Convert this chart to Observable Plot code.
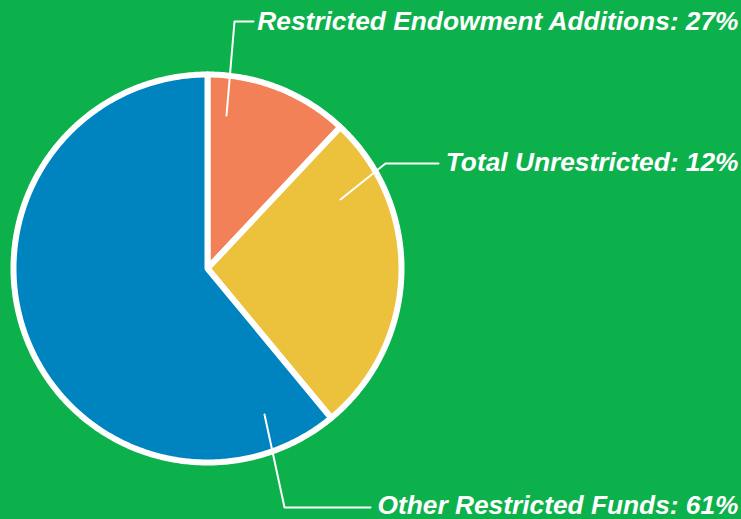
<!DOCTYPE html>
<html>
<head>
<meta charset="utf-8">
<script src="https://cdn.jsdelivr.net/npm/d3@7"></script>
<script src="https://cdn.jsdelivr.net/npm/@observablehq/plot@0.6"></script>
<style>
  html, body { margin: 0; padding: 0; background: #0db14b; }
  #chart svg { display: block; background: #0db14b; }
</style>
</head>
<body>
<div id="chart"></div>
<script>
// ---- data ----
const categories = ["Restricted Endowment Additions", "Total Unrestricted", "Other Restricted Funds"];
const shares = [12, 27, 61];                 // slice sizes as drawn
const printedPercents = ["27%", "12%", "61%"]; // percentages as printed in labels
const sliceColors = ["#f28157", "#ecc13c", "#0084c0"];

// ---- layout ----
const W = 741, H = 519;
const cx = 207, cy = 268, R = 194;
const callouts = [
  {start: [226, 115], elbow: [234, 21], end: [253, 21], textY: 21},
  {start: [340, 199], elbow: [385, 163], end: [438, 163], textY: 162},
  {start: [264, 414], elbow: [284, 507], end: [370, 507], textY: 505}
];

const data = categories.map((c, i) => ({category: c, share: shares[i], printed: printedPercents[i], color: sliceColors[i]}));
const arcs = d3.pie().sort(null).value(d => d.share)(data);

const slicePts = [];
arcs.forEach(a => {
  const cat = a.data.category;
  slicePts.push({category: cat, x: cx, y: cy});
  const n = Math.max(8, Math.ceil((a.endAngle - a.startAngle) / 0.01));
  for (let k = 0; k <= n; k++) {
    const t = a.startAngle + (a.endAngle - a.startAngle) * k / n;
    slicePts.push({category: cat, x: cx + R * Math.sin(t), y: cy - R * Math.cos(t)});
  }
});

const leaderPts = [];
callouts.forEach((c, i) => {
  [c.start, c.elbow, c.end].forEach(p => leaderPts.push({category: categories[i], x: p[0], y: p[1]}));
});

const labels = data.map((d, i) => ({text: `${d.category}: ${d.printed}`, x: 738, y: callouts[i].textY}));

const chart = Plot.plot({
  width: W,
  height: H,
  margin: 0,
  x: {domain: [0, W], range: [0, W], axis: null},
  y: {domain: [0, H], range: [0, H], axis: null},
  color: {domain: categories, range: sliceColors},
  style: {background: "#0db14b"},
  marks: [
    Plot.line(slicePts, {x: "x", y: "y", z: "category", fill: "category", stroke: "white", strokeWidth: 6, curve: "linear-closed", strokeLinejoin: "round"}),
    Plot.line(leaderPts, {x: "x", y: "y", z: "category", stroke: "white", strokeWidth: 2}),
    Plot.text(labels, {x: "x", y: "y", text: "text", textAnchor: "end", fill: "white", fontSize: 26.3, fontWeight: "bold", fontStyle: "italic", fontFamily: "'Liberation Sans', Arial, Helvetica, sans-serif"})
  ]
});
document.getElementById("chart").appendChild(chart);
</script>
</body>
</html>
